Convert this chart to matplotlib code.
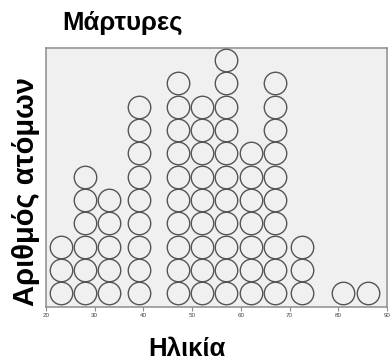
import numpy as np
import matplotlib
matplotlib.use('Agg')
import matplotlib.pyplot as plt

# Data: dot plot bins (age centre) and number of people in each
ages = [23, 28, 33, 39, 47, 52, 57, 62, 67, 72.5, 81, 86]
counts = [3, 6, 5, 9, 10, 9, 11, 7, 10, 3, 1, 1]
xticks = [20, 30, 40, 50, 60, 70, 80, 90]

title = 'Μάρτυρες'
xlabel = 'Ηλικία'
ylabel = 'Αριθμός ατόμων'

BG = '#f0f0f0'
EDGE = '#555555'
FRAME = '#8c8c8c'
FONT = ['Liberation Sans', 'DejaVu Sans']

# stack one dot per person
xs = np.repeat(ages, counts)
ys = np.concatenate([np.arange(c) for c in counts])

fig = plt.figure(figsize=(3.91, 3.6), dpi=100)
fig.patch.set_facecolor('white')
ax = fig.add_axes([46 / 391, 53.3 / 360, 341 / 391, 258.4 / 360])
ax.set_facecolor(BG)

ax.scatter(xs, ys, s=262, facecolors=BG, edgecolors=EDGE, linewidths=1.0, zorder=3, clip_on=False)

ax.set_xlim(20, 90)
ax.set_ylim(-0.575, 10.51)
ax.set_xticks(xticks)
ax.set_xticklabels([str(t) for t in xticks], fontsize=4.5, color='#444444', family=FONT)
ax.set_yticks([])
ax.tick_params(axis='x', direction='out', length=3, width=0.8, color=FRAME, pad=1.5)
for s in ax.spines.values():
    s.set_color(FRAME)
    s.set_linewidth(1.1)

fig.text(62 / 391, 1 - 30 / 360, title, fontsize=18.5, fontweight='bold', family=FONT,
         ha='left', va='baseline')
fig.text(187 / 391, 1 - 356 / 360, xlabel, fontsize=18.5, fontweight='bold', family=FONT,
         ha='center', va='baseline')
fig.text(26 / 391, 1 - 192 / 360, ylabel, fontsize=21, fontweight='bold', family=FONT,
         ha='center', va='center', rotation=90)

fig.savefig('out.png', dpi=100, facecolor='white')
